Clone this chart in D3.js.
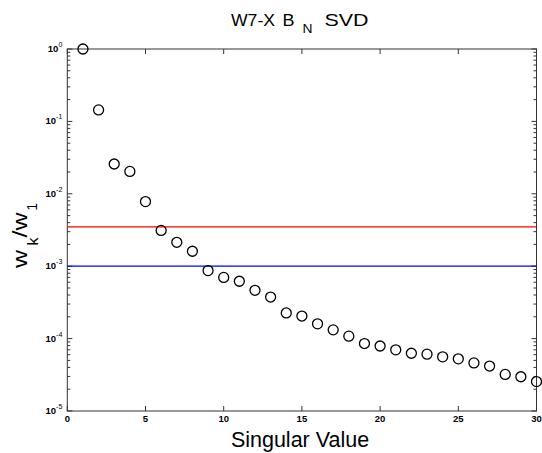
<!DOCTYPE html>
<html><head><meta charset="utf-8">
<script src="https://cdn.jsdelivr.net/npm/d3@7"></script>
<style>body{margin:0;background:#fff}svg{display:block}</style>
</head><body>
<script>
const singularIndex = d3.range(1, 31);
const ratios = [1.0, 0.144, 0.0258, 0.0204, 0.0078, 0.00312, 0.00214, 0.00161, 0.00087, 0.00070,
  0.00062, 0.000465, 0.000375, 0.000226, 0.000205, 0.000160, 0.000132, 0.000108, 0.0000855, 0.0000790,
  0.0000700, 0.0000628, 0.0000610, 0.0000560, 0.0000525, 0.0000462, 0.0000418, 0.0000320, 0.0000297, 0.0000255];
const thresholds = [{value: 0.0035, color: "#ff0000"}, {value: 0.001, color: "#0000ff"}];
const xTicks = [0, 5, 10, 15, 20, 25, 30];
const yTickExps = [0, -1, -2, -3, -4, -5];

const W = 542, H = 453;
const L = 67.3, R = 536.5, T = 49, B = 411;
const svg = d3.select("body").append("svg").attr("width", W).attr("height", H)
  .style("font-family", "Liberation Sans, Arial, sans-serif");

const x = d3.scaleLinear().domain([0, 30]).range([L, R]);
const y = d3.scaleLog().domain([1e-5, 1]).range([B, T]);

const axisColor = "#333";
svg.append("rect").attr("x", L).attr("y", T).attr("width", R - L).attr("height", B - T)
  .attr("fill", "none").attr("stroke", axisColor).attr("stroke-width", 1);

const g = svg.append("g");
xTicks.forEach(t => {
  const px = x(t);
  g.append("line").attr("x1", px).attr("x2", px).attr("y1", B).attr("y2", B - 5).attr("stroke", axisColor);
  g.append("line").attr("x1", px).attr("x2", px).attr("y1", T).attr("y2", T + 5).attr("stroke", axisColor);
  g.append("text").attr("x", px).attr("y", B + 11).attr("text-anchor", "middle")
    .attr("font-size", 9.5).attr("font-weight", "bold").attr("fill", "#000").text(t);
});

const minor = [];
for (let e = -5; e < 0; e++) for (let m = 2; m <= 9; m++) minor.push(m * Math.pow(10, e));
minor.forEach(v => {
  const py = y(v);
  g.append("line").attr("x1", L).attr("x2", L + 3).attr("y1", py).attr("y2", py).attr("stroke", axisColor);
  g.append("line").attr("x1", R).attr("x2", R - 3).attr("y1", py).attr("y2", py).attr("stroke", axisColor);
});
yTickExps.forEach(e => {
  const py = y(Math.pow(10, e));
  g.append("line").attr("x1", L).attr("x2", L + 5).attr("y1", py).attr("y2", py).attr("stroke", axisColor);
  g.append("line").attr("x1", R).attr("x2", R - 5).attr("y1", py).attr("y2", py).attr("stroke", axisColor);
  const t = g.append("text").attr("x", L - 5).attr("y", py + 3).attr("text-anchor", "end")
    .attr("font-size", 9.5).attr("font-weight", "bold").attr("fill", "#000");
  t.append("tspan").text("10");
  t.append("tspan").attr("dy", -5).attr("font-size", 7).attr("font-weight", "normal").text(e === 0 ? "0" : e);
});

thresholds.forEach(th => {
  svg.append("line").attr("x1", L).attr("x2", R).attr("y1", y(th.value)).attr("y2", y(th.value))
    .attr("stroke", th.color).attr("stroke-width", 1.3);
});

svg.append("g").selectAll("circle").data(singularIndex).join("circle")
  .attr("cx", d => x(d)).attr("cy", (d, i) => y(ratios[i])).attr("r", 5)
  .attr("fill", "none").attr("stroke", "#000").attr("stroke-width", 1.3);

// title
const tg = svg.append("g").attr("font-size", 16.5).attr("fill", "#000");
const adj = "spacingAndGlyphs";
tg.append("text").attr("x", 231).attr("y", 26).attr("textLength", 44).attr("lengthAdjust", adj).text("W7-X");
tg.append("text").attr("x", 282.5).attr("y", 26).attr("textLength", 12).attr("lengthAdjust", adj).text("B");
tg.append("text").attr("x", 302.5).attr("y", 33).attr("font-size", 13).attr("textLength", 10).attr("lengthAdjust", adj).text("N");
tg.append("text").attr("x", 324.5).attr("y", 26).attr("textLength", 44).attr("lengthAdjust", adj).text("SVD");

// x label
svg.append("text").attr("x", 300).attr("y", 447).attr("text-anchor", "middle")
  .attr("font-size", 21.5).attr("fill", "#000").text("Singular Value");

// y label
const yl = svg.append("g").attr("transform", "rotate(-90)").attr("fill", "#000");
yl.append("text").attr("x", -268).attr("y", 27).attr("font-size", 20.5).attr("textLength", 18).attr("lengthAdjust", adj).text("w");
yl.append("text").attr("x", -245.5).attr("y", 38).attr("font-size", 14).attr("textLength", 8).attr("lengthAdjust", adj).text("k");
yl.append("text").attr("x", -237.5).attr("y", 27).attr("font-size", 20.5).attr("textLength", 25).attr("lengthAdjust", adj).text("/w");
yl.append("text").attr("x", -210.5).attr("y", 37).attr("font-size", 14).attr("textLength", 7.5).attr("lengthAdjust", adj).text("1");
</script>
</body></html>
